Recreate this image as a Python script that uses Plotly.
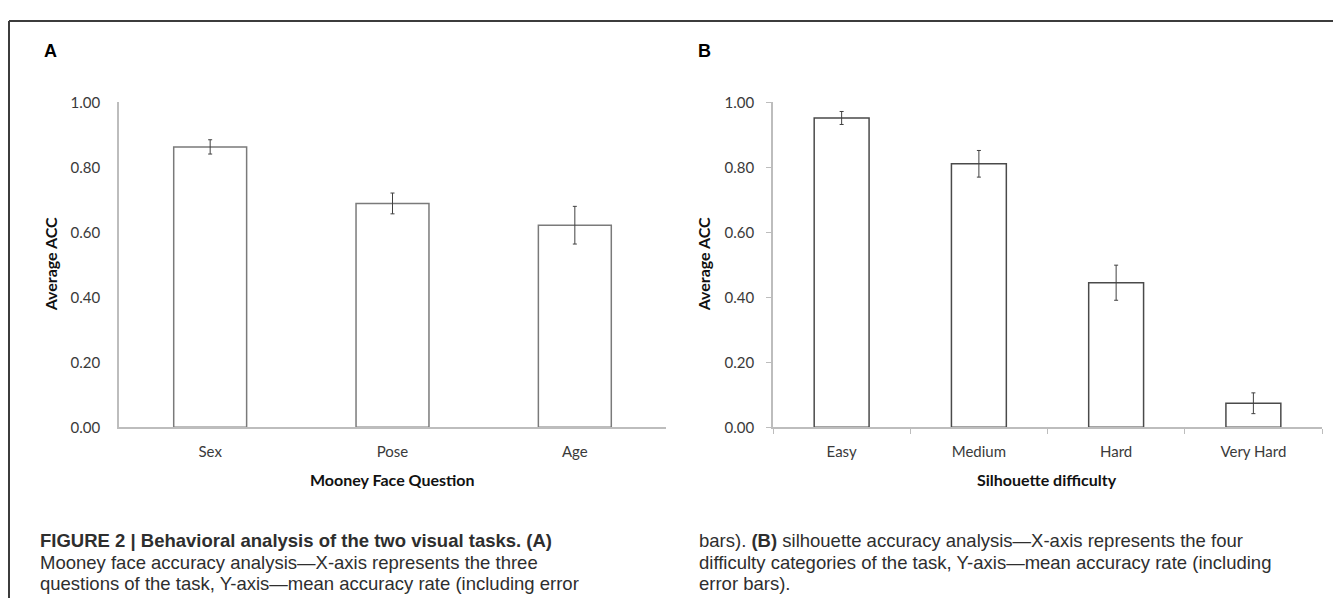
import plotly.graph_objects as go

# page has an 8px body margin; figure sized so that it fills the window exactly
OX, OY = 8, 8
W, H = 1341 - OX, 606 - OY

# ---- data ----
face_questions = ["Sex", "Pose", "Age"]
face_acc = [0.863, 0.689, 0.622]
face_err = [0.022, 0.032, 0.058]

sil_levels = ["Easy", "Medium", "Hard", "Very Hard"]
sil_acc = [0.952, 0.811, 0.445, 0.074]
sil_err = [0.020, 0.041, 0.054, 0.032]

y_ticks = [0.0, 0.2, 0.4, 0.6, 0.8, 1.0]
y_ticktext = ["0.00", "0.20", "0.40", "0.60", "0.80", "1.00"]

panel_titles = ["Mooney Face Question", "Silhouette difficulty"]
y_title = "Average ACC"

caption_left = [
    "<b>FIGURE 2 | Behavioral analysis of the two visual tasks. (A)</b>",
    "Mooney face accuracy analysis—X-axis represents the three",
    "questions of the task, Y-axis—mean accuracy rate (including error",
]
caption_right = [
    "bars). <b>(B)</b> silhouette accuracy analysis—X-axis represents the four",
    "difficulty categories of the task, Y-axis—mean accuracy rate (including",
    "error bars).",
]

# ---- geometry helpers (window pixels -> paper) ----
def px(x):
    return (x - OX) / W

def py(y):
    return 1 - (y - OY) / H

TICK_FONT = dict(family="Lato, Open Sans, sans-serif", size=15, color="#3a3a3a")
TITLE_FONT = dict(family="Lato, Open Sans, sans-serif", size=16, color="#111111")
CAP_FONT = dict(family="Liberation Sans, Arial, sans-serif", size=18.5, color="#2e2e2e")
LETTER_FONT = dict(family="Liberation Sans, Arial, sans-serif", size=18, color="#000000")

fig = go.Figure()

fig.add_trace(go.Bar(
    x=face_questions, y=face_acc, width=0.4,
    marker=dict(color="white", line=dict(color="#7a7a7a", width=1.5)),
    error_y=dict(type="data", array=face_err, color="#404040", thickness=1, width=2),
    xaxis="x", yaxis="y", showlegend=False,
))
fig.add_trace(go.Bar(
    x=sil_levels, y=sil_acc, width=0.4,
    marker=dict(color="white", line=dict(color="#4a4a4a", width=1.5)),
    error_y=dict(type="data", array=sil_err, color="#404040", thickness=1, width=2),
    xaxis="x2", yaxis="y2", showlegend=False,
))

axis_line = "#bdbdbd"
fig.update_layout(
    width=W, height=H,
    margin=dict(l=0, r=0, t=0, b=0),
    paper_bgcolor="white", plot_bgcolor="white",
    xaxis=dict(domain=[px(119), px(666)], anchor="y", range=[-0.5, 2.5],
               showline=True, linecolor=axis_line, linewidth=1.5, showgrid=False,
               ticks="", tickfont=TICK_FONT, ticklabelstandoff=10, zeroline=False),
    yaxis=dict(domain=[py(430), py(95)], anchor="x", range=[0, 1],
               showline=True, linecolor=axis_line, linewidth=1.5, showgrid=False,
               ticks="", tickvals=y_ticks, ticktext=y_ticktext, tickfont=TICK_FONT,
               ticklabelstandoff=14, zeroline=False),
    xaxis2=dict(domain=[px(773), px(1322)], anchor="y2", range=[-0.5, 3.5],
                showline=True, linecolor=axis_line, linewidth=1.5, showgrid=False,
                ticks="outside", ticklen=5, tickcolor=axis_line, tickwidth=1,
                tickson="boundaries", tickfont=TICK_FONT, ticklabelstandoff=10,
                zeroline=False),
    yaxis2=dict(domain=[py(430), py(95)], anchor="x2", range=[0, 1],
                showline=True, linecolor=axis_line, linewidth=1.5, showgrid=False,
                ticks="outside", ticklen=5, tickcolor=axis_line, tickwidth=1,
                tickvals=y_ticks, ticktext=y_ticktext, tickfont=TICK_FONT,
                ticklabelstandoff=9, zeroline=False),
)

def note(x, y, text, font, xa="center", ya="middle", angle=0):
    return dict(x=px(x), y=py(y), text=text, showarrow=False, xref="paper", yref="paper",
                xanchor=xa, yanchor=ya, textangle=angle, font=font)

ann = [
    note(50, 42, "<b>A</b>", LETTER_FONT),
    note(704, 42, "<b>B</b>", LETTER_FONT),
    note(50, 262, "<b>" + y_title + "</b>", TITLE_FONT, angle=-90),
    note(703, 262, "<b>" + y_title + "</b>", TITLE_FONT, angle=-90),
    note(392, 484, "<b>" + panel_titles[0] + "</b>", TITLE_FONT),
    note(1047, 484, "<b>" + panel_titles[1] + "</b>", TITLE_FONT),
]
line_y = [547, 569, 591]
for t, yy in zip(caption_left, line_y):
    ann.append(note(38, yy, t, CAP_FONT, xa="left"))
for t, yy in zip(caption_right, line_y):
    ann.append(note(697, yy, t, CAP_FONT, xa="left"))
fig.update_layout(annotations=ann)

# outer frame (top and left rules)
fig.add_shape(type="line", xref="paper", yref="paper", x0=px(9), x1=1, y0=py(11), y1=py(11),
              line=dict(color="#3c3c3c", width=2))
fig.add_shape(type="line", xref="paper", yref="paper", x0=px(9), x1=px(9), y0=0, y1=py(11),
              line=dict(color="#3c3c3c", width=2))

fig.write_html("out.html")
